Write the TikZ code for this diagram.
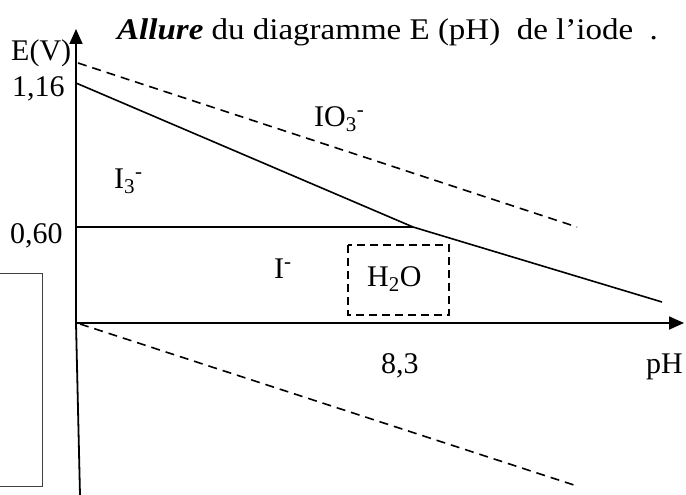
\documentclass[tikz,border=0pt]{standalone}
\usepackage{fontspec}
\setmainfont{Liberation Serif}
\usetikzlibrary{arrows.meta}
\tikzset{
  lbl/.style={anchor=base west, inner sep=0pt, font=\fontsize{30}{32}\selectfont},
  axisline/.style={line width=1.8pt, -{Triangle[length=15pt,width=13pt]}},
  solidline/.style={line width=1.6pt},
  dashline/.style={line width=1.6pt, dash pattern=on 9pt off 6pt},
}
\begin{document}
\begin{tikzpicture}[x=1pt,y=-1pt]
\useasboundingbox (0,0) rectangle (686,495);
% coordinates
\coordinate (O) at (76,323);
\coordinate (Ytop) at (76,29);
\coordinate (Xend) at (684,323);
\coordinate (Ybot) at (80,495);
\coordinate (A) at (76,83);
\coordinate (K) at (413,227);
\coordinate (B) at (662,302);
\coordinate (H) at (76,227);
\coordinate (D1) at (78,63);
\coordinate (D2) at (577,227);
\coordinate (L1) at (80,324);
\coordinate (L2) at (577,486);
% left rectangle
\draw[line width=0.8pt, black!75] (-3,273) rectangle (42,486);
% axes
\draw[axisline] (O) -- (Ytop);
\draw[line width=1.8pt] (O) -- (Ybot);
\draw[axisline] (O) -- (Xend);
% lines
\draw[solidline] (A) -- (K) -- (B);
\draw[solidline] (H) -- (K);
\draw[dashline] (D1) -- (D2);
\draw[dashline] (L1) -- (L2);
% H2O box
\draw[line width=1.4pt, dash pattern=on 8pt off 5pt] (348,245) rectangle (449,315);
% labels
\node[lbl, xscale=1.1] (title) at (117,40) {\textbf{\textit{Allure}} du diagramme E (pH)\ \ de l’iode\ \ .};
\node[lbl] (EV) at (11,61) {E(V)};
\node[lbl] (v116) at (12,97) {1,16};
\node[lbl] (v060) at (10,243) {0,60};
\node[lbl] (IO3) at (314,126) {IO\textsubscript{3}\textsuperscript{-}};
\node[lbl] (I3) at (114,188) {I\textsubscript{3}\textsuperscript{-}};
\node[lbl] (Im) at (274,278) {I\textsuperscript{-}};
\node[lbl] (H2O) at (367,286) {H\textsubscript{2}O};
\node[lbl] (v83) at (381,373) {8,3};
\node[lbl] (pH) at (646,373) {pH};
\end{tikzpicture}
\end{document}
